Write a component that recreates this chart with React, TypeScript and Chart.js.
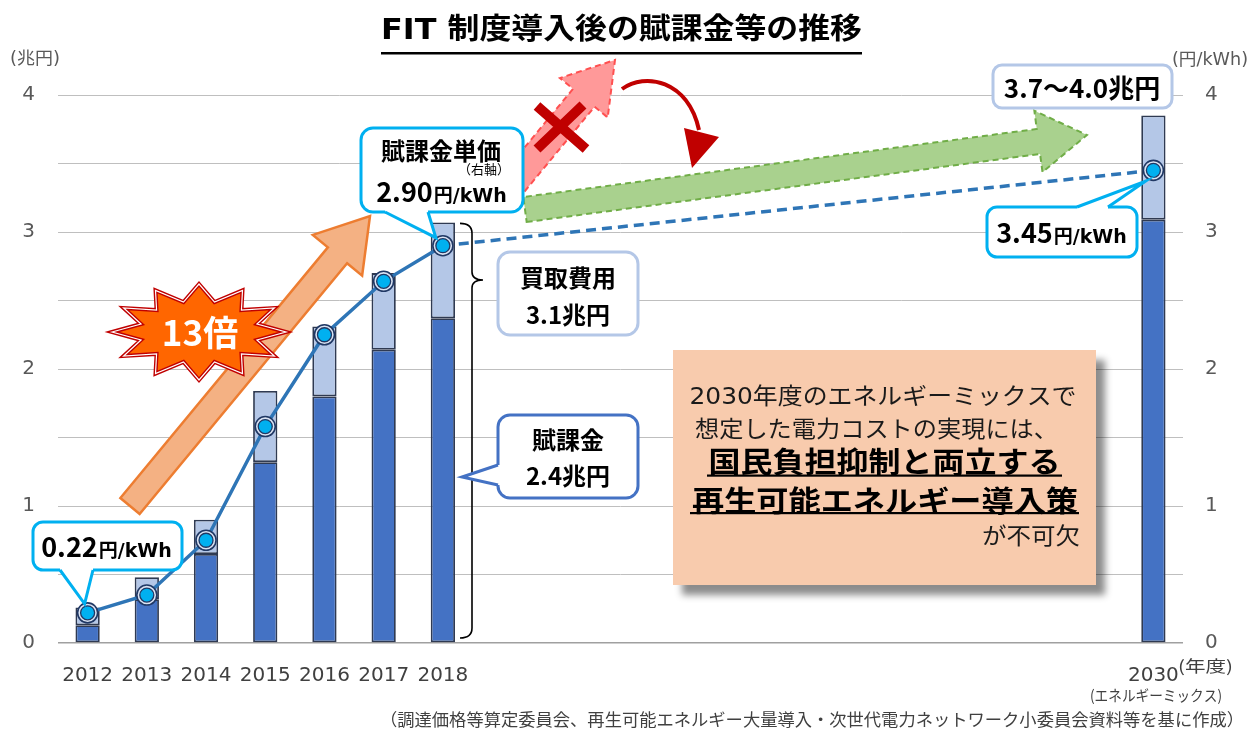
import { useEffect, useRef } from "react";
import { Chart, registerables } from "chart.js";

Chart.register(...registerables);

// ---------------- data ----------------
const categories = ["2012", "2013", "2014", "2015", "2016", "2017", "2018", "", "", "", "", "", "", "", "", "", "", "", "2030"];
const levyTrillionYen = [0.13, 0.32, 0.65, 1.32, 1.8, 2.14, 2.37, null, null, null, null, null, null, null, null, null, null, null, 3.09];
const purchaseCostTrillionYen = [0.26, 0.48, 0.9, 1.84, 2.31, 2.7, 3.07, null, null, null, null, null, null, null, null, null, null, null, 3.85];
const unitPriceYenPerKWh = [0.22, 0.35, 0.75, 1.58, 2.25, 2.64, 2.9, null, null, null, null, null, null, null, null, null, null, null, 3.45];
const axisTicks = [0, 1, 2, 3, 4];

const JP = "'Noto Sans CJK JP', sans-serif";
const LAT = "'DejaVu Sans', 'Noto Sans CJK JP', sans-serif";

// ---------------- helpers ----------------
function fitText(ctx: any, text: string, x: number, y: number, width: number, align: string) {
  const w = ctx.measureText(text).width;
  const s = width / w;
  ctx.save();
  ctx.translate(x, y);
  ctx.scale(s, 1);
  ctx.textAlign = align;
  ctx.fillText(text, 0, 0);
  ctx.restore();
}

function blockArrowPath(ctx: any, sx: number, sy: number, tx: number, ty: number, hw: number, headHW: number, headLen: number) {
  const dx = tx - sx, dy = ty - sy;
  const L = Math.hypot(dx, dy);
  const ux = dx / L, uy = dy / L;
  const px = -uy, py = ux;
  const bx = tx - ux * headLen, by = ty - uy * headLen;
  ctx.beginPath();
  ctx.moveTo(sx + px * hw, sy + py * hw);
  ctx.lineTo(bx + px * hw, by + py * hw);
  ctx.lineTo(bx + px * headHW, by + py * headHW);
  ctx.lineTo(tx, ty);
  ctx.lineTo(bx - px * headHW, by - py * headHW);
  ctx.lineTo(bx - px * hw, by - py * hw);
  ctx.lineTo(sx - px * hw, sy - py * hw);
  ctx.closePath();
}

function starPath(ctx: any, cx: number, cy: number, n: number, rxo: number, ryo: number, rxi: number, ryi: number) {
  ctx.beginPath();
  for (let k = 0; k < 2 * n; k++) {
    const a = (Math.PI * k) / n + Math.PI;
    const outer = k % 2 === 0;
    const rx = outer ? rxo : rxi;
    const ry = outer ? ryo : ryi;
    const x = cx + rx * Math.cos(a);
    const y = cy + ry * Math.sin(a);
    if (k === 0) ctx.moveTo(x, y);
    else ctx.lineTo(x, y);
  }
  ctx.closePath();
}

function callout(ctx: any, x: number, y: number, w: number, h: number, r: number, stroke: string, lw: number, pointer?: any) {
  ctx.save();
  ctx.beginPath();
  ctx.roundRect(x, y, w, h, r);
  ctx.fillStyle = "#ffffff";
  ctx.fill();
  ctx.lineWidth = lw;
  ctx.strokeStyle = stroke;
  ctx.stroke();
  if (pointer) {
    const { b1, b2, tip, inward } = pointer;
    ctx.beginPath();
    ctx.moveTo(b1[0] + inward[0], b1[1] + inward[1]);
    ctx.lineTo(b1[0], b1[1]);
    ctx.lineTo(tip[0], tip[1]);
    ctx.lineTo(b2[0], b2[1]);
    ctx.lineTo(b2[0] + inward[0], b2[1] + inward[1]);
    ctx.closePath();
    ctx.fill();
    ctx.beginPath();
    ctx.moveTo(b1[0], b1[1]);
    ctx.lineTo(tip[0], tip[1]);
    ctx.lineTo(b2[0], b2[1]);
    ctx.lineJoin = "miter";
    ctx.stroke();
  }
  ctx.restore();
}

function valueText(ctx: any, big: string, small: string, cx: number, baseline: number, bigSize: number, smallSize: number) {
  ctx.save();
  ctx.fillStyle = "#000000";
  ctx.textBaseline = "alphabetic";
  ctx.font = `bold ${bigSize}px ${JP}`;
  const w1 = ctx.measureText(big).width;
  ctx.font = `bold ${smallSize}px ${LAT}`;
  const w2 = ctx.measureText(small).width;
  const start = cx - (w1 + w2) / 2;
  ctx.textAlign = "left";
  ctx.font = `bold ${bigSize}px ${JP}`;
  ctx.fillText(big, start, baseline);
  ctx.font = `bold ${smallSize}px ${LAT}`;
  ctx.fillText(small, start + w1 + 1, baseline);
  ctx.restore();
}

// ---------------- annotation plugin ----------------
const annotationPlugin = {
  id: "fitAnnotations",
  afterDatasetsDraw(chart: any) {
    const ctx = chart.ctx;
    const meta = chart.getDatasetMeta(2);
    ctx.save();
    meta.data.forEach((pt: any, i: number) => {
      if (unitPriceYenPerKWh[i] == null) return;
      const { x, y } = pt;
      ctx.beginPath();
      ctx.arc(x, y, 10, 0, Math.PI * 2);
      ctx.fillStyle = "#DAE3F3";
      ctx.fill();
      ctx.lineWidth = 1.6;
      ctx.strokeStyle = "#203864";
      ctx.stroke();
      ctx.beginPath();
      ctx.arc(x, y, 7, 0, Math.PI * 2);
      ctx.fillStyle = "#00B0F0";
      ctx.fill();
      ctx.lineWidth = 1.3;
      ctx.stroke();
    });
    ctx.restore();
  },
  afterDraw(chart: any) {
    const ctx = chart.ctx;
    const ys = chart.scales.y;
    const meta = chart.getDatasetMeta(2);
    const pt = (i: number) => meta.data[i];

    ctx.save();
    ctx.textBaseline = "middle";

    // title
    ctx.fillStyle = "#000000";
    ctx.font = `bold 29px ${LAT}`;
    fitText(ctx, "FIT 制度導入後の賦課金等の推移", 621.5, 31, 481, "center");
    ctx.fillRect(381, 52, 481, 2.5);

    // axis titles
    ctx.fillStyle = "#595959";
    ctx.font = `17px ${LAT}`;
    fitText(ctx, "(兆円)", 10, 60, 50, "left");
    fitText(ctx, "(円/kWh)", 1172, 61, 76, "left");

    // 2030 extra labels
    ctx.fillStyle = "#404040";
    ctx.font = `16px ${JP}`;
    fitText(ctx, "(年度)", 1178, 666, 55, "left");
    ctx.font = `15px ${JP}`;
    fitText(ctx, "(エネルギーミックス)", 1156, 695, 132, "center");

    // footer
    ctx.font = `17px ${JP}`;
    fitText(ctx, "（調達価格等算定委員会、再生可能エネルギー大量導入・次世代電力ネットワーク小委員会資料等を基に作成）", 1244, 720, 864, "right");

    // orange arrow
    ctx.save();
    blockArrowPath(ctx, 130, 506, 370, 216, 12.5, 32, 51);
    ctx.fillStyle = "#F4B183";
    ctx.fill();
    ctx.lineWidth = 2.5;
    ctx.strokeStyle = "#ED7D31";
    ctx.lineJoin = "miter";
    ctx.stroke();
    ctx.restore();

    // starburst
    ctx.save();
    starPath(ctx, 199, 332, 12, 87, 48, 60, 31);
    ctx.fillStyle = "#FF6600";
    ctx.fill();
    ctx.lineWidth = 4;
    ctx.strokeStyle = "#C00000";
    ctx.stroke();
    ctx.lineWidth = 1.2;
    ctx.strokeStyle = "#ffffff";
    ctx.stroke();
    ctx.fillStyle = "#ffffff";
    ctx.font = `bold 35px ${JP}`;
    ctx.textAlign = "center";
    ctx.fillText("13倍", 200, 333);
    ctx.restore();

    // red arrow (rejected path)
    ctx.save();
    blockArrowPath(ctx, 501, 198, 615, 60, 14, 31, 49);
    ctx.fillStyle = "#FF9999";
    ctx.fill();
    ctx.setLineDash([6, 4]);
    ctx.lineWidth = 2;
    ctx.strokeStyle = "#FF5050";
    ctx.stroke();
    ctx.restore();

    // red X
    ctx.save();
    ctx.strokeStyle = "#C00000";
    ctx.lineWidth = 10;
    ctx.lineCap = "butt";
    ctx.beginPath();
    ctx.moveTo(537, 106);
    ctx.lineTo(586, 149);
    ctx.moveTo(583, 105);
    ctx.lineTo(537, 149);
    ctx.stroke();
    ctx.restore();

    // curved red arrow
    ctx.save();
    ctx.strokeStyle = "#C00000";
    ctx.fillStyle = "#C00000";
    ctx.lineWidth = 4;
    ctx.beginPath();
    ctx.moveTo(622, 89);
    ctx.bezierCurveTo(645, 72, 688, 80, 699, 130);
    ctx.stroke();
    ctx.beginPath();
    ctx.moveTo(684, 128);
    ctx.lineTo(719, 137);
    ctx.lineTo(692, 168);
    ctx.closePath();
    ctx.fill();
    ctx.restore();

    // green arrow
    ctx.save();
    blockArrowPath(ctx, 525, 209.5, 1087, 135, 12.6, 31, 49);
    ctx.fillStyle = "#A9D18E";
    ctx.fill();
    ctx.setLineDash([6, 4]);
    ctx.lineWidth = 2;
    ctx.strokeStyle = "#70AD47";
    ctx.stroke();
    ctx.restore();

    // curly brace next to 2018 bar
    const braceTop = ys.getPixelForValue(purchaseCostTrillionYen[6]) + 1;
    const braceBottom = ys.getPixelForValue(0) - 5;
    ctx.save();
    ctx.strokeStyle = "#000000";
    ctx.lineWidth = 1.6;
    ctx.beginPath();
    ctx.moveTo(460, braceTop);
    ctx.quadraticCurveTo(472, braceTop, 472, braceTop + 10);
    ctx.lineTo(472, 272);
    ctx.quadraticCurveTo(472, 280, 483, 280);
    ctx.quadraticCurveTo(472, 280, 472, 288);
    ctx.lineTo(472, braceBottom - 10);
    ctx.quadraticCurveTo(472, braceBottom, 460, braceBottom);
    ctx.stroke();
    ctx.restore();

    // callout: 2018 unit price
    const p18 = pt(6);
    callout(ctx, 361, 128, 162, 84, 12, "#00B0F0", 3, {
      b1: [385, 212],
      b2: [428, 212],
      tip: [p18.x - 7, p18.y - 8],
      inward: [0, -3],
    });
    ctx.fillStyle = "#000000";
    ctx.font = `bold 24px ${JP}`;
    ctx.textAlign = "center";
    ctx.fillText("賦課金単価", 441, 151);
    ctx.font = `13px ${JP}`;
    ctx.fillText("（右軸）", 484, 169);
    valueText(ctx, "2.90", "円/kWh", 441, 202, 27, 19);

    // callout: 2012 unit price
    const p12 = pt(0);
    callout(ctx, 33, 522, 149, 48, 10, "#00B0F0", 3, {
      b1: [60, 570],
      b2: [93, 570],
      tip: [p12.x - 3, p12.y - 9],
      inward: [0, -3],
    });
    valueText(ctx, "0.22", "円/kWh", 106, 557, 27, 19);

    // callout: 2030 unit price
    const p30 = pt(18);
    callout(ctx, 987, 207, 150, 50, 10, "#00B0F0", 3, {
      b1: [1077, 207],
      b2: [1108, 207],
      tip: [p30.x - 8, p30.y + 11],
      inward: [0, 3],
    });
    valueText(ctx, "3.45", "円/kWh", 1061, 243, 27, 19);

    // 2030 total box
    callout(ctx, 993, 65, 179, 43, 9, "#B4C7E7", 3);
    ctx.fillStyle = "#000000";
    ctx.font = `bold 26px ${JP}`;
    ctx.textAlign = "center";
    ctx.textBaseline = "alphabetic";
    ctx.fillText("3.7〜4.0兆円", 1082, 98);
    ctx.textBaseline = "middle";

    // purchase cost box
    callout(ctx, 498, 252, 140, 83, 12, "#B4C7E7", 3);
    ctx.fillStyle = "#000000";
    ctx.font = `bold 24px ${JP}`;
    ctx.fillText("買取費用", 568, 278);
    ctx.fillText("3.1兆円", 568, 315);

    // levy box
    callout(ctx, 498, 415, 140, 83, 12, "#4472C4", 3, {
      b1: [498, 465],
      b2: [498, 485],
      tip: [462, 477],
      inward: [3, 0],
    });
    ctx.fillStyle = "#000000";
    ctx.font = `bold 24px ${JP}`;
    ctx.fillText("賦課金", 568, 440);
    ctx.fillText("2.4兆円", 568, 476);

    // message box
    ctx.save();
    ctx.shadowColor = "rgba(0,0,0,0.45)";
    ctx.shadowBlur = 7;
    ctx.shadowOffsetX = 9;
    ctx.shadowOffsetY = 10;
    ctx.fillStyle = "#F8CBAD";
    ctx.fillRect(673, 350, 423, 235);
    ctx.restore();

    ctx.fillStyle = "#1a1a1a";
    ctx.font = `23px ${LAT}`;
    fitText(ctx, "2030年度のエネルギーミックスで", 883, 398, 387, "center");
    ctx.font = `23px ${JP}`;
    fitText(ctx, "想定した電力コストの実現には、", 876.5, 428, 363, "center");
    ctx.fillStyle = "#000000";
    ctx.font = `bold 29px ${JP}`;
    fitText(ctx, "国民負担抑制と両立する", 884.5, 462, 352, "center");
    fitText(ctx, "再生可能エネルギー導入策", 885, 501, 386, "center");
    ctx.fillRect(707, 474.5, 355, 2.2);
    ctx.fillRect(690, 512, 389, 2.2);
    ctx.fillStyle = "#1a1a1a";
    ctx.font = `23px ${JP}`;
    fitText(ctx, "が不可欠", 1080, 535, 98, "right");

    ctx.restore();
  },
};

// ---------------- component ----------------
export default function App() {
  const canvasRef = useRef<HTMLCanvasElement | null>(null);

  useEffect(() => {
    if (!canvasRef.current) return;
    const upperStack = purchaseCostTrillionYen.map((v, i) =>
      v == null || levyTrillionYen[i] == null ? null : +(v - (levyTrillionYen[i] as number)).toFixed(3)
    );

    const chart = new Chart(canvasRef.current, {
      type: "bar",
      data: {
        labels: categories,
        datasets: [
          {
            type: "bar",
            label: "賦課金",
            data: levyTrillionYen,
            backgroundColor: "#4472C4",
            borderColor: "#2F3A52",
            borderWidth: 1.8,
            borderSkipped: false,
            stack: "cost",
            yAxisID: "y",
            barPercentage: 0.41,
            categoryPercentage: 1,
            order: 2,
          },
          {
            type: "bar",
            label: "買取費用",
            data: upperStack,
            backgroundColor: "#B4C7E7",
            borderColor: "#2F3A52",
            borderWidth: 1.8,
            borderSkipped: false,
            stack: "cost",
            yAxisID: "y",
            barPercentage: 0.41,
            categoryPercentage: 1,
            order: 2,
          },
          {
            type: "line",
            label: "賦課金単価",
            data: unitPriceYenPerKWh,
            yAxisID: "y2",
            borderColor: "#2E75B6",
            borderWidth: 3.5,
            pointRadius: 0,
            spanGaps: true,
            tension: 0,
            order: 1,
            segment: {
              borderDash: (c: any) => (c.p1DataIndex === 18 ? [10, 6] : undefined),
            },
          } as any,
        ],
      },
      options: {
        animation: false,
        responsive: false,
        maintainAspectRatio: false,
        layout: { padding: { top: 95, left: 0, right: 0, bottom: 0 } },
        plugins: {
          legend: { display: false },
          tooltip: { enabled: false },
          title: { display: false },
        },
        scales: {
          x: {
            stacked: true,
            offset: true,
            grid: { display: false },
            border: { display: false },
            ticks: {
              autoSkip: false,
              maxRotation: 0,
              padding: 13,
              color: "#404040",
              font: { family: LAT, size: 20 },
            },
            afterFit: (s: any) => {
              s.height = 90;
            },
          },
          y: {
            position: "left",
            stacked: true,
            min: axisTicks[0],
            max: axisTicks[axisTicks.length - 1],
            grid: {
              color: (c: any) => (c.tick && c.tick.value === 0 ? "#A0A0A0" : "#BFBFBF"),
              lineWidth: (c: any) => (c.tick && c.tick.value === 0 ? 1.5 : 1),
              drawTicks: false,
            },
            border: { display: false },
            ticks: {
              stepSize: 0.5,
              padding: 23,
              color: "#595959",
              font: { family: LAT, size: 20 },
              callback: (v: any) => (axisTicks.includes(Number(v)) ? String(v) : ""),
            },
            afterFit: (s: any) => {
              s.width = 58;
            },
          },
          y2: {
            position: "right",
            min: axisTicks[0],
            max: axisTicks[axisTicks.length - 1],
            grid: { display: false, drawTicks: false },
            border: { display: false },
            ticks: {
              stepSize: 1,
              padding: 22,
              color: "#595959",
              font: { family: LAT, size: 20 },
            },
            afterFit: (s: any) => {
              s.width = 67;
            },
          },
        },
      },
      plugins: [annotationPlugin],
    });

    return () => chart.destroy();
  }, []);

  return (
    <div style={{ position: "absolute", left: 0, top: 0, width: 1250, height: 733, background: "#ffffff" }}>
      <canvas ref={canvasRef} width={1250} height={733} style={{ width: 1250, height: 733 }} />
    </div>
  );
}
